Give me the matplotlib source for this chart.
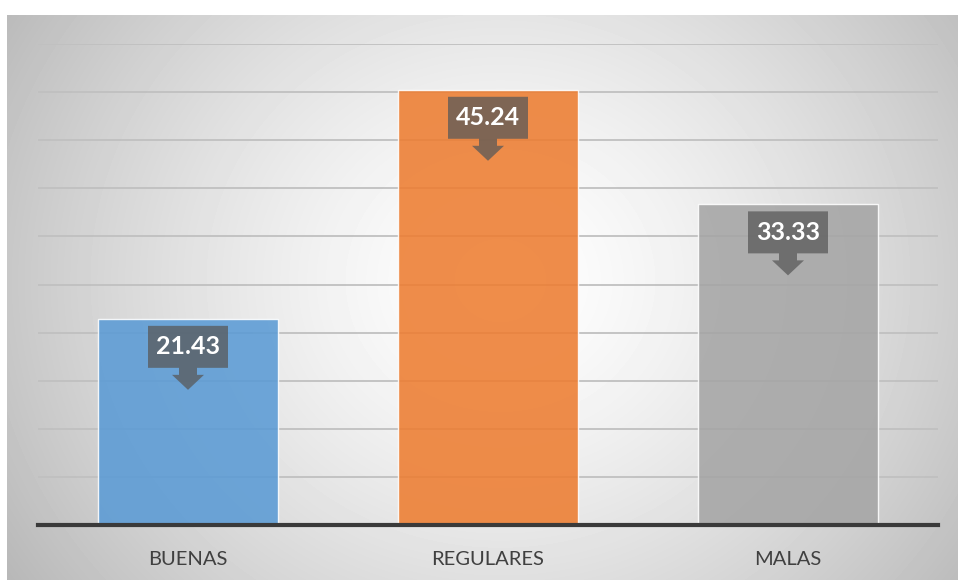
import numpy as np
import matplotlib.pyplot as plt
from matplotlib.patches import Polygon
from matplotlib import transforms

categories = ['BUENAS', 'REGULARES', 'MALAS']
values = [21.43, 45.24, 33.33]
labels = ['21.43', '45.24', '33.33']
bar_colors = ['#5B9BD5', '#ED7D31', '#A5A5A5']

W, H = 958, 580
fig = plt.figure(figsize=(W / 100, H / 100), dpi=100)
fig.patch.set_facecolor('white')

# radial gradient chart area background
bg = fig.add_axes([7 / W, 0, 1 - 7 / W, (H - 15) / H])
yy, xx = np.mgrid[15:H, 7:W]
d = np.hypot(xx - 500, (yy - 280) * 1.1)
shade = np.clip(1.0 - 0.26 * (d / 560) ** 1.4, 0, 1)
bg.imshow(shade, cmap='gray', vmin=0, vmax=1, aspect='auto', interpolation='bilinear')
bg.set_axis_off()

ax = fig.add_axes([38 / W, (H - 525) / H, 900 / W, (525 - 44) / H])
ax.set_facecolor('none')
x = np.arange(len(categories))
ax.bar(x, values, width=0.6, color=bar_colors, alpha=0.88,
       edgecolor=(1, 1, 1, 0.5), linewidth=1, zorder=3)
ax.set_xlim(-0.5, len(categories) - 0.5)
ax.set_ylim(0, 50)
ax.set_yticks(np.arange(5, 51, 5))
ax.yaxis.grid(True, color='#c0c0c0', linewidth=1.3, zorder=0)
ax.tick_params(axis='y', left=False, labelleft=False)
ax.tick_params(axis='x', bottom=False, pad=15)
ax.set_xticks(x)
ax.set_xticklabels(categories, fontsize=14.5, color='#404040', family='Lato')
for s in ['top', 'right', 'left']:
    ax.spines[s].set_visible(False)
ax.spines['bottom'].set_color('#3a3a3a')
ax.spines['bottom'].set_linewidth(3)
ax.spines['bottom'].set_zorder(5)

# callouts: box with a downward arrow, in pixel offsets from the bar top
shape = [(-40, -7), (40, -7), (40, -49), (9, -49), (9, -56), (16, -56),
         (0, -71), (-16, -56), (-9, -56), (-9, -49), (-40, -49)]
for xi, v, lab in zip(x, values, labels):
    tr = transforms.Affine2D() + transforms.ScaledTranslation(xi, v, ax.transData)
    ax.add_patch(Polygon(shape, closed=True, transform=tr, facecolor='#595959',
                         alpha=0.75, edgecolor='none', zorder=4))
    ax.annotate(lab, (xi, v), xytext=(0, -28 * 0.72), textcoords='offset points',
                ha='center', va='center', color='white', fontsize=18,
                fontweight='bold', family='Lato', zorder=6)

fig.savefig('out.png', dpi=100)
